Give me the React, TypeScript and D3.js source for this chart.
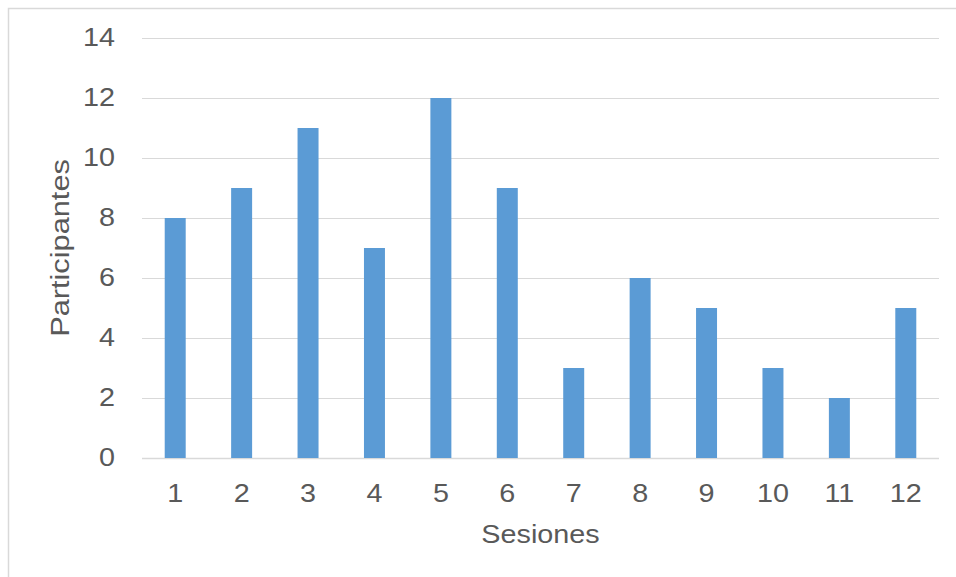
import React from "react";
import * as d3 from "d3";

// Participants per session
const sessions = ["1", "2", "3", "4", "5", "6", "7", "8", "9", "10", "11", "12"];
const participants = [8, 9, 11, 7, 12, 9, 3, 6, 5, 3, 2, 5];
const yTicks = [0, 2, 4, 6, 8, 10, 12, 14];
const xTitle = "Sesiones";
const yTitle = "Participantes";

const W = 956;
const H = 577;
const plot = { left: 142, right: 939, top: 38, bottom: 458 };
const FS = 25;
const STRETCH = 1.15;
const TITLE_STRETCH = 1.23;
const TEXT = "#595959";
const GRID = "#D9D9D9";
const BAR = "#5B9BD5";

export default function App() {
  const x = d3
    .scaleBand<string>()
    .domain(sessions)
    .range([plot.left, plot.right])
    .paddingInner(0.684)
    .paddingOuter(0.342);
  const y = d3.scaleLinear().domain([0, 14]).range([plot.bottom, plot.top]);

  const font = { fontFamily: "Liberation Sans, Arial, sans-serif", fontSize: FS, fill: TEXT };

  return (
    <svg
      width={W}
      height={H}
      style={{ position: "fixed", left: 0, top: 0, background: "#fff" }}
    >
      {/* chart frame */}
      <rect x={8.5} y={8.5} width={W + 20} height={H + 20} fill="#fff" stroke={GRID} strokeWidth={1.5} />

      {/* gridlines */}
      {yTicks.map((t) => (
        <line
          key={t}
          x1={plot.left}
          x2={plot.right}
          y1={Math.round(y(t)) + 0.5}
          y2={Math.round(y(t)) + 0.5}
          stroke={GRID}
          strokeWidth={t === 0 ? 1.5 : 1}
        />
      ))}

      {/* bars */}
      {participants.map((v, i) => (
        <rect
          key={sessions[i]}
          x={x(sessions[i])}
          y={y(v)}
          width={x.bandwidth()}
          height={y(0) - y(v)}
          fill={BAR}
        />
      ))}

      {/* y tick labels */}
      {yTicks.map((t) => (
        <text
          key={t}
          transform={`translate(${plot.left - 27},${y(t)}) scale(${STRETCH},1)`}
          textAnchor="end"
          dominantBaseline="central"
          {...font}
        >
          {t}
        </text>
      ))}

      {/* x tick labels */}
      {sessions.map((s) => (
        <text
          key={s}
          transform={`translate(${(x(s) ?? 0) + x.bandwidth() / 2},502) scale(${STRETCH},1)`}
          textAnchor="middle"
          {...font}
        >
          {s}
        </text>
      ))}

      {/* axis titles */}
      <text
        transform={`translate(${(plot.left + plot.right) / 2},543) scale(${STRETCH},1)`}
        textAnchor="middle"
        {...font}
      >
        {xTitle}
      </text>
      <text
        transform={`translate(69,${(plot.top + plot.bottom) / 2}) rotate(-90) scale(${TITLE_STRETCH},1)`}
        textAnchor="middle"
        {...font}
      >
        {yTitle}
      </text>
    </svg>
  );
}
